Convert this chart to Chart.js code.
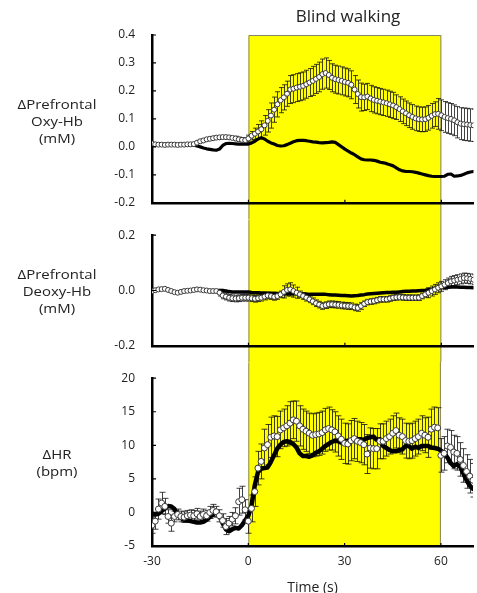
<!DOCTYPE html>
<html><head><meta charset="utf-8">
<script src="https://cdn.jsdelivr.net/npm/chart.js@4.4.1/dist/chart.umd.min.js"></script>
<style>
html,body{margin:0;padding:0;background:#fff;}
body{width:477px;height:593px;position:relative;overflow:hidden;font-family:'Open Sans',sans-serif;color:#222;}
.cv{position:absolute;left:0;width:477px;}
.lab{position:absolute;left:0;width:114px;text-align:center;font-size:13px;line-height:17px;transform:scaleX(1.15);}
#title{position:absolute;left:248px;width:200px;text-align:center;top:5px;font-size:17px;line-height:22px;}
</style></head><body>
<div class="cv" style="top:0;height:219px"><canvas id="c1"></canvas></div>
<div class="cv" style="top:219px;height:143px"><canvas id="c2"></canvas></div>
<div class="cv" style="top:362px;height:234px"><canvas id="c3"></canvas></div>
<div id="title">Blind walking</div>
<div class="lab" style="top:96px">ΔPrefrontal<br>Oxy-Hb<br>(mM)</div>
<div class="lab" style="top:266px">ΔPrefrontal<br>Deoxy-Hb<br>(mM)</div>
<div class="lab" style="top:446px">ΔHR<br>(bpm)</div>
<script>
// ---- time axis (s) ----
const times = [-30,-29,-28,-27,-26,-25,-24,-23,-22,-21,-20,-19,-18,-17,-16,-15,-14,-13,-12,-11,-10,-9,-8,-7,-6,-5,-4,-3,-2,-1,
0,1,2,3,4,5,6,7,8,9,10,11,12,13,14,15,16,17,18,19,20,21,22,23,24,25,26,27,28,29,30,31,32,33,34,35,36,37,38,39,40,
41,42,43,44,45,46,47,48,49,50,51,52,53,54,55,56,57,58,59,60,61,62,63,64,65,66,67,68,69,70];
const xTicks = [-30, 0, 30, 60];
const walkStart = 0, walkEnd = 60;
const xTitle = "Time (s)";

// ---- Prefrontal Oxy-Hb (mM) ----
const oxyOpen = [0.012,0.009,0.008,0.008,0.007,0.008,0.008,0.008,0.007,0.008,0.008,0.009,0.009,0.010,0.015,0.020,0.023,0.027,0.029,0.031,0.033,0.034,0.035,0.035,0.034,0.032,0.030,0.027,0.025,0.024,
0.030,0.040,0.047,0.055,0.063,0.077,0.093,0.112,0.133,0.152,0.167,0.177,0.190,0.205,0.208,0.212,0.215,0.218,0.224,0.230,0.236,0.243,0.250,0.260,0.264,0.257,0.247,0.242,0.239,0.236,0.232,
0.229,0.222,0.205,0.189,0.178,0.177,0.180,0.173,0.168,0.165,0.162,0.159,0.156,0.152,0.148,0.142,0.135,0.127,0.120,0.113,0.107,0.102,0.099,0.098,0.099,0.104,0.111,0.117,0.118,0.113,
0.107,0.103,0.100,0.095,0.088,0.083,0.081,0.080,0.078,0.077];
const oxyErr = [0.002,0.002,0.002,0.002,0.002,0.002,0.002,0.002,0.002,0.002,0.002,0.002,0.002,0.002,0.002,0.005,0.005,0.005,0.005,0.005,0.005,0.005,0.005,0.005,0.005,0.005,0.008,0.008,0.008,0.008,
0.012,0.015,0.020,0.025,0.030,0.035,0.040,0.045,0.045,0.045,0.045,0.045,0.045,0.050,0.050,0.050,0.050,0.050,0.050,0.050,0.052,0.052,0.053,0.054,0.054,0.052,0.050,0.050,0.050,0.050,0.050,
0.050,0.050,0.050,0.050,0.050,0.047,0.047,0.047,0.047,0.047,0.047,0.047,0.047,0.047,0.047,0.044,0.044,0.044,0.044,0.044,0.044,0.044,0.044,0.044,0.044,0.044,0.044,0.044,0.055,0.055,
0.055,0.055,0.055,0.055,0.056,0.057,0.058,0.058,0.058,0.058];
const oxyFilled = [0.008,0.008,0.008,0.008,0.008,0.008,0.008,0.008,0.008,0.008,0.008,0.008,0.008,0.006,0.003,0.000,-0.004,-0.007,-0.009,-0.011,-0.012,-0.008,0.005,0.012,0.013,0.012,0.011,0.010,0.010,0.010,
0.010,0.014,0.020,0.028,0.033,0.028,0.020,0.014,0.010,0.005,0.003,0.004,0.008,0.013,0.018,0.022,0.023,0.023,0.022,0.020,0.018,0.017,0.015,0.014,0.015,0.016,0.018,0.016,0.008,0.000,-0.008,
-0.015,-0.022,-0.028,-0.036,-0.043,-0.046,-0.047,-0.047,-0.048,-0.051,-0.055,-0.057,-0.060,-0.064,-0.068,-0.075,-0.082,-0.086,-0.088,-0.088,-0.089,-0.091,-0.094,-0.097,-0.100,-0.103,-0.105,-0.106,-0.106,-0.106,
-0.105,-0.098,-0.097,-0.105,-0.104,-0.102,-0.098,-0.093,-0.090,-0.088];
const oxyTicks = [-0.2,-0.1,0.0,0.1,0.2,0.3,0.4];

// ---- Prefrontal Deoxy-Hb (mM) ----
const deoxyOpen = [-0.002,0.001,0.004,0.005,0.006,0.002,-0.002,-0.006,-0.008,-0.005,-0.002,-0.001,0.000,0.002,0.004,0.003,0.001,0.000,-0.002,-0.002,-0.002,-0.008,-0.018,-0.022,-0.026,-0.028,-0.029,-0.028,-0.026,-0.026,
-0.026,-0.028,-0.030,-0.028,-0.026,-0.022,-0.018,-0.020,-0.023,-0.020,-0.014,-0.005,0.002,0.004,-0.002,-0.008,-0.014,-0.020,-0.026,-0.032,-0.039,-0.046,-0.051,-0.056,-0.053,-0.050,-0.050,-0.051,-0.052,-0.054,-0.055,
-0.056,-0.057,-0.061,-0.063,-0.056,-0.048,-0.042,-0.040,-0.038,-0.035,-0.032,-0.032,-0.032,-0.029,-0.026,-0.025,-0.024,-0.025,-0.026,-0.026,-0.026,-0.026,-0.026,-0.020,-0.014,-0.008,-0.002,0.004,0.010,0.015,
0.021,0.027,0.033,0.036,0.039,0.042,0.045,0.044,0.042,0.039];
const deoxyErr = [0.003,0.003,0.003,0.003,0.003,0.003,0.003,0.003,0.003,0.003,0.003,0.003,0.003,0.003,0.003,0.003,0.003,0.003,0.003,0.003,0.003,0.012,0.012,0.012,0.012,0.012,0.012,0.012,0.012,0.012,
0.012,0.012,0.012,0.012,0.012,0.012,0.012,0.012,0.012,0.012,0.012,0.022,0.022,0.024,0.022,0.020,0.012,0.012,0.012,0.012,0.012,0.012,0.012,0.012,0.012,0.012,0.012,0.012,0.012,0.012,0.012,
0.012,0.012,0.012,0.012,0.012,0.010,0.010,0.010,0.010,0.010,0.010,0.010,0.010,0.010,0.010,0.010,0.010,0.010,0.010,0.010,0.010,0.010,0.010,0.010,0.010,0.018,0.018,0.018,0.018,0.018,
0.018,0.018,0.018,0.018,0.018,0.018,0.018,0.018,0.018,0.018];
const deoxyFilled = [-0.002,0.001,0.004,0.005,0.006,0.002,-0.002,-0.006,-0.008,-0.005,-0.002,-0.001,0.000,0.002,0.004,0.003,0.001,0.000,-0.002,-0.002,-0.001,0.000,0.000,-0.002,-0.004,-0.005,-0.005,-0.005,-0.005,-0.005,
-0.005,-0.007,-0.008,-0.008,-0.009,-0.009,-0.010,-0.010,-0.010,-0.011,-0.011,-0.012,-0.012,-0.012,-0.012,-0.013,-0.013,-0.013,-0.013,-0.014,-0.014,-0.014,-0.014,-0.014,-0.014,-0.015,-0.016,-0.016,-0.017,-0.018,-0.018,
-0.019,-0.020,-0.019,-0.018,-0.016,-0.015,-0.013,-0.012,-0.011,-0.010,-0.009,-0.008,-0.007,-0.007,-0.006,-0.006,-0.005,-0.004,-0.003,-0.003,-0.002,-0.002,-0.001,0.000,0.001,0.003,0.005,0.007,0.009,0.010,
0.011,0.012,0.013,0.013,0.013,0.012,0.012,0.011,0.011,0.010];
const deoxyTicks = [-0.2,0.0,0.2];

// ---- Heart rate (bpm) ----
const hrOpen = [-1.9,-1.3,0.5,1.4,0.9,-0.6,-1.6,-0.6,-0.3,-0.6,-0.7,-0.5,-0.4,-0.5,-0.2,-0.6,-0.3,-0.5,0.0,0.3,0.1,-0.5,-1.2,-2.1,-1.6,-1.0,-0.5,1.6,1.9,0.4,
-1.3,0.6,3.1,6.6,7.6,9.6,10.1,11.2,11.4,11.3,12.3,12.6,12.9,13.3,13.8,13.6,12.9,12.4,12.1,11.8,11.5,11.6,11.7,11.9,12.3,12.5,12.3,12.0,11.4,10.9,10.3,
10.2,10.7,11.0,10.6,10.4,10.1,8.7,9.6,9.5,9.5,10.6,10.6,11.0,11.3,11.8,12.2,11.5,11.3,10.7,10.6,10.7,11.0,11.3,11.8,11.5,11.2,12.4,12.7,12.6,8.5,
8.8,9.9,9.7,9.0,8.8,7.9,7.0,6.1,5.4,4.8];
const hrErr = [1.2,1.2,1.5,1.6,1.2,1.0,1.2,0.8,0.8,0.8,0.8,0.8,0.8,0.8,0.8,0.8,0.8,0.8,0.9,0.9,0.8,0.9,1.0,1.2,1.0,1.0,1.2,2.0,2.0,1.5,
1.8,2.0,2.2,2.5,2.6,2.8,3.0,3.0,3.0,3.0,2.8,2.8,3.0,3.2,2.8,3.0,3.0,3.0,3.0,3.0,3.2,3.2,3.2,3.2,3.2,3.2,3.0,3.0,3.0,3.0,3.0,
3.0,3.0,3.0,3.0,3.0,3.0,2.9,3.0,3.0,3.0,2.6,2.6,2.6,2.6,2.6,2.6,2.6,2.6,2.6,2.6,2.6,2.6,2.6,2.6,2.6,3.0,3.0,3.0,3.0,2.5,
2.5,2.5,2.5,2.5,2.5,2.5,2.5,2.5,2.5,2.5];
const hrFilled = [-0.2,-0.3,-0.2,0.2,0.6,0.95,0.9,0.5,-0.3,-0.8,-1.1,-1.2,-1.3,-1.4,-1.5,-1.5,-1.4,-1.1,-0.7,-0.3,0.1,-0.5,-1.6,-2.5,-2.8,-2.5,-2.3,-2.4,-1.9,-1.2,
-0.5,1.0,4.0,6.0,6.5,6.6,6.7,7.5,8.5,9.5,10.1,10.5,10.6,10.5,10.2,9.7,8.8,8.4,8.4,8.3,8.5,8.9,9.1,9.5,9.9,10.2,10.5,10.7,10.6,10.4,10.6,
10.7,10.8,10.9,10.9,10.9,10.8,11.1,11.2,11.3,10.8,10.9,9.9,9.6,9.3,9.1,9.1,9.3,9.4,9.9,9.9,9.5,9.8,9.6,9.9,9.9,9.9,9.7,9.6,9.5,9.2,
8.9,8.2,7.4,6.9,7.2,6.8,5.8,4.8,4.0,3.5];
const hrTicks = [-5,0,5,10,15,20];

Chart.defaults.font.family = "'Open Sans', sans-serif";
Chart.defaults.font.size = 12;
Chart.defaults.color = '#222';

const xy = vals => times.map((t, i) => ({x: t, y: vals[i]}));

const yellowBox = {
  id: 'yellowBox',
  beforeDraw(chart, args, o) {
    const {ctx, chartArea} = chart;
    const xs = chart.scales.x;
    const x0 = xs.getPixelForValue(o.from), x1 = xs.getPixelForValue(o.to);
    const top = o.fromTop ? chartArea.top : 0;
    const bottom = o.toBottom ? chartArea.bottom : chart.height;
    ctx.save();
    ctx.fillStyle = '#ffff00';
    ctx.fillRect(x0, top, x1 - x0, bottom - top);
    ctx.strokeStyle = '#85856a';
    ctx.lineWidth = 1;
    ctx.beginPath();
    ctx.moveTo(x0 + 0.5, bottom); ctx.lineTo(x0 + 0.5, top + 0.5);
    if (o.fromTop) ctx.lineTo(x1 - 0.5, top + 0.5); else ctx.moveTo(x1 - 0.5, top);
    ctx.lineTo(x1 - 0.5, bottom);
    ctx.stroke();
    ctx.restore();
  }
};

const errorBars = {
  id: 'errorBars',
  beforeDatasetsDraw(chart, args, o) {
    const {ctx, chartArea} = chart;
    const xs = chart.scales.x, ys = chart.scales.y;
    const ds = chart.data.datasets[0];
    const err = o.err;
    ctx.save();
    ctx.beginPath();
    ctx.rect(chartArea.left, 0, chartArea.right - chartArea.left, chart.height);
    ctx.clip();
    ctx.strokeStyle = '#111';
    ctx.lineWidth = 0.8;
    ctx.beginPath();
    ds.data.forEach((p, i) => {
      const px = Math.round(xs.getPixelForValue(p.x)) + 0.5;
      const yt = ys.getPixelForValue(p.y + err[i]);
      const yb = ys.getPixelForValue(p.y - err[i]);
      ctx.moveTo(px, yt); ctx.lineTo(px, yb);
      ctx.moveTo(px - o.cap, yt); ctx.lineTo(px + o.cap, yt);
      ctx.moveTo(px - o.cap, yb); ctx.lineTo(px + o.cap, yb);
    });
    ctx.stroke();
    ctx.restore();
  }
};

const innerTicks = {
  id: 'innerTicks',
  afterDraw(chart) {
    const {ctx, chartArea} = chart;
    const xs = chart.scales.x, ys = chart.scales.y;
    ctx.save();
    ctx.strokeStyle = '#000';
    ctx.lineWidth = 1.2;
    ctx.beginPath();
    ys.ticks.forEach(t => {
      const py = ys.getPixelForValue(t.value);
      ctx.moveTo(chartArea.left, py); ctx.lineTo(chartArea.left + 4, py);
    });
    xTicks.forEach(v => {
      const px = xs.getPixelForValue(v);
      ctx.moveTo(px, chartArea.bottom); ctx.lineTo(px, chartArea.bottom - 3);
    });
    ctx.stroke();
    ctx.restore();
  }
};

function makePanel(id, p) {
  return new Chart(document.getElementById(id), {
    type: 'line',
    data: {
      datasets: [
        {data: xy(p.open), showLine: false, pointRadius: p.r, pointHoverRadius: p.r,
         pointBackgroundColor: '#ffffff', pointBorderColor: '#3a3a3a', pointBorderWidth: 1},
        {data: xy(p.filled), borderColor: '#000', borderWidth: p.lw, pointRadius: 0,
         tension: 0, borderJoinStyle: 'round', borderCapStyle: 'round'}
      ]
    },
    options: {
      responsive: true, maintainAspectRatio: false, animation: false,
      events: [],
      layout: {padding: {top: p.padTop, left: 0, right: 0, bottom: 0}},
      plugins: {
        legend: {display: false}, tooltip: {enabled: false},
        yellowBox: {from: walkStart, to: walkEnd, fromTop: p.fromTop, toBottom: p.toBottom},
        errorBars: {err: p.err, cap: p.cap}
      },
      scales: {
        x: {
          type: 'linear', min: -30, max: 70,
          afterFit: s => { s.height = p.xh; },
          grid: {display: false},
          border: {display: true, color: '#000', width: 2.5},
          afterBuildTicks: s => { s.ticks = xTicks.map(v => ({value: v})); },
          ticks: {display: p.showX, padding: 0, maxRotation: 0, autoSkip: false,
                  callback: v => String(v), color: '#222'},
          title: {display: p.showX, text: xTitle, padding: {top: 10, bottom: 0}, color: '#222',
                  font: {size: 14}}
        },
        y: {
          type: 'linear', min: p.min, max: p.max,
          afterFit: s => { s.width = 152; },
          afterBuildTicks: s => { s.ticks = p.ticks.map(v => ({value: v})); },
          grid: {display: false},
          border: {display: true, color: '#000', width: 2.5},
          ticks: {padding: 9, color: '#222', callback: v => p.fmt(v)}
        }
      }
    },
    plugins: [yellowBox, errorBars, innerTicks]
  });
}

const f1 = v => (Math.abs(v) < 1e-9 ? 0 : v).toFixed(1);
makePanel('c1', {open: oxyOpen, err: oxyErr, filled: oxyFilled, ticks: oxyTicks, min: -0.2, max: 0.4,
  fmt: f1, padTop: 35, xh: 16, showX: false, fromTop: true, toBottom: false, r: 2.5, lw: 3.2, cap: 2.5});
makePanel('c2', {open: deoxyOpen, err: deoxyErr, filled: deoxyFilled, ticks: deoxyTicks, min: -0.2, max: 0.2,
  fmt: f1, padTop: 16, xh: 15, showX: false, fromTop: false, toBottom: false, r: 2.5, lw: 3.5, cap: 2.5});
makePanel('c3', {open: hrOpen, err: hrErr, filled: hrFilled, ticks: hrTicks, min: -5, max: 20,
  fmt: v => String(Math.round(v)), padTop: 16, xh: 50, showX: true, fromTop: false, toBottom: true, r: 3, lw: 4.5, cap: 3});
</script>
</body></html>
